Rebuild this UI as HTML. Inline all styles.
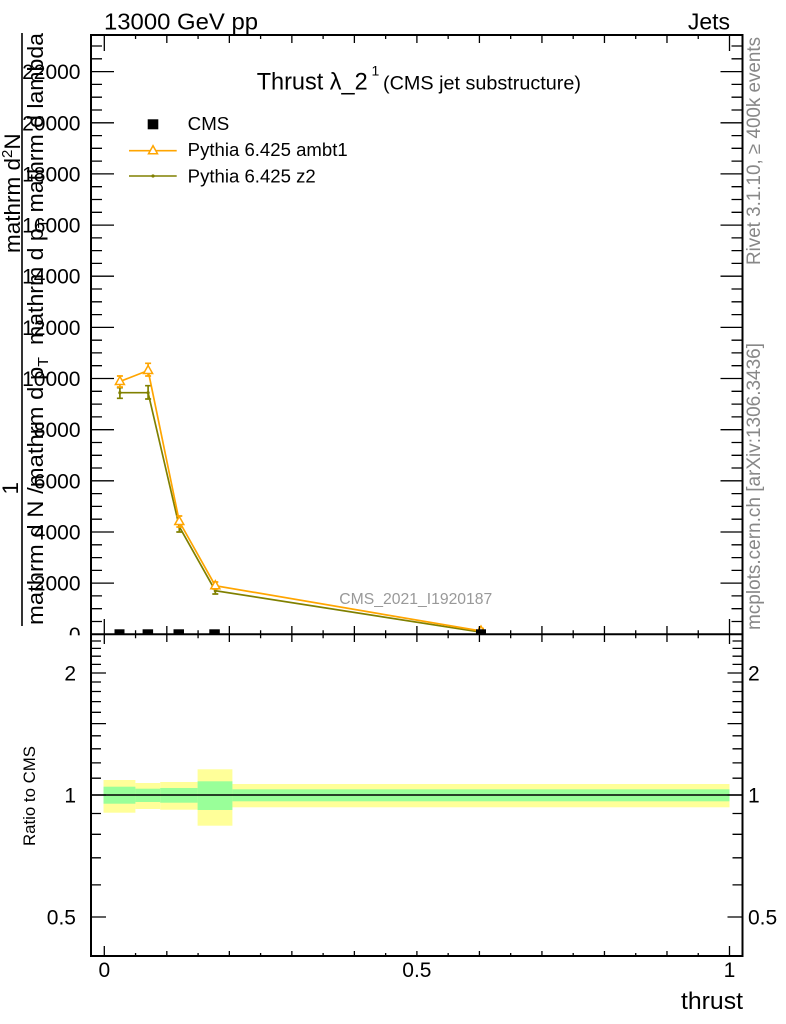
<!DOCTYPE html>
<html><head><meta charset="utf-8"><style>html,body{margin:0;padding:0;background:#fff}svg{display:block}</style></head>
<body>
<svg width="786" height="1024" viewBox="0 0 786 1024" xmlns="http://www.w3.org/2000/svg" font-family="'Liberation Sans', Arial, sans-serif">
<rect x="0" y="0" width="786" height="1024" fill="#fff"/>

<!-- top labels -->
<text x="104" y="29.3" font-size="23" textLength="154" lengthAdjust="spacingAndGlyphs">13000 GeV pp</text>
<text x="730" y="29.3" font-size="23" text-anchor="end">Jets</text>

<!-- main y ticks -->
<path stroke="#000" stroke-width="1.3" fill="none" d="
M91 583.15h23M91 532h23M91 480.8h23M91 429.7h23M91 378.5h23M91 327.4h23M91 276.2h23M91 225.1h23M91 173.9h23M91 122.8h23M91 71.6h23
M91 621.5h11M91 608.7h11M91 595.9h11M91 570.4h11M91 557.6h11M91 544.8h11M91 519.2h11M91 506.4h11M91 493.6h11M91 468h11M91 455.3h11M91 442.5h11M91 416.9h11M91 404.1h11M91 391.3h11M91 365.7h11M91 352.9h11M91 340.2h11M91 314.6h11M91 301.8h11M91 289h11M91 263.4h11M91 250.6h11M91 237.9h11M91 212.3h11M91 199.5h11M91 186.7h11M91 161.1h11M91 148.3h11M91 135.6h11M91 110h11M91 97.2h11M91 84.4h11M91 58.8h11M91 46h11
M742.5 583.15h-22M742.5 532h-22M742.5 480.8h-22M742.5 429.7h-22M742.5 378.5h-22M742.5 327.4h-22M742.5 276.2h-22M742.5 225.1h-22M742.5 173.9h-22M742.5 122.8h-22M742.5 71.6h-22
M742.5 621.5h-11M742.5 608.7h-11M742.5 595.9h-11M742.5 570.4h-11M742.5 557.6h-11M742.5 544.8h-11M742.5 519.2h-11M742.5 506.4h-11M742.5 493.6h-11M742.5 468h-11M742.5 455.3h-11M742.5 442.5h-11M742.5 416.9h-11M742.5 404.1h-11M742.5 391.3h-11M742.5 365.7h-11M742.5 352.9h-11M742.5 340.2h-11M742.5 314.6h-11M742.5 301.8h-11M742.5 289h-11M742.5 263.4h-11M742.5 250.6h-11M742.5 237.9h-11M742.5 212.3h-11M742.5 199.5h-11M742.5 186.7h-11M742.5 161.1h-11M742.5 148.3h-11M742.5 135.6h-11M742.5 110h-11M742.5 97.2h-11M742.5 84.4h-11M742.5 58.8h-11M742.5 46h-11
"/>
<!-- main top x ticks -->
<path stroke="#000" stroke-width="1.3" fill="none" d="
M104.3 35v16M729.5 35v16
M166.82 35v8M229.34 35v8M291.86 35v8M354.38 35v8M416.9 35v8M479.42 35v8M541.94 35v8M604.46 35v8M666.98 35v8
M135.56 35v4M198.08 35v4M260.6 35v4M323.12 35v4M385.64 35v4M448.16 35v4M510.68 35v4M573.2 35v4M635.72 35v4M698.24 35v4
"/>

<!-- main y tick labels -->
<g font-size="21" text-anchor="end">
<text x="80.5" y="79.1">22000</text>
<text x="80.5" y="130.3">20000</text>
<text x="80.5" y="181.4">18000</text>
<text x="80.5" y="232.6">16000</text>
<text x="80.5" y="283.7">14000</text>
<text x="80.5" y="334.9">12000</text>
<text x="80.5" y="386">10000</text>
<text x="80.5" y="437.2">8000</text>
<text x="80.5" y="488.3">6000</text>
<text x="80.5" y="539.5">4000</text>
<text x="80.5" y="590.6">2000</text>
<text x="80.5" y="641.8">0</text>
</g>

<!-- y axis title -->
<line x1="22" y1="33" x2="22" y2="626" stroke="#000" stroke-width="1.6"/>
<text transform="translate(20,253) rotate(-90)" font-size="22.5">mathrm d<tspan font-size="15" dy="-8">2</tspan><tspan font-size="22.5" dy="8">N</tspan></text>
<text transform="translate(18,494.5) rotate(-90)" font-size="22.5">1</text>
<text transform="translate(43,625) rotate(-90) scale(1.06,1)" font-size="22.5">mathrm d N /mathrm d p<tspan font-size="15" dy="5">T</tspan></text>
<text transform="translate(43,345) rotate(-90) scale(1.026,1)" font-size="22.5">mathrm d p<tspan font-size="15" dy="5">T</tspan><tspan dy="-5"> mathrm d lambda</tspan></text>

<!-- title -->
<text x="256.7" y="89.3" font-size="24" textLength="111" lengthAdjust="spacingAndGlyphs">Thrust λ_2</text>
<text x="371.5" y="75.5" font-size="14">1</text>
<text x="383" y="89.3" font-size="19" textLength="198" lengthAdjust="spacingAndGlyphs">(CMS jet substructure)</text>

<!-- legend -->
<rect x="147.7" y="119.3" width="10.6" height="10" fill="#000"/>
<text x="187.7" y="130" font-size="18.5" textLength="41.6" lengthAdjust="spacingAndGlyphs">CMS</text>
<line x1="129" y1="150.7" x2="176.7" y2="150.7" stroke="#FFA500" stroke-width="1.6"/>
<polygon points="153,145.7 148.5,153.7 157.5,153.7" fill="#fff" stroke="#FFA500" stroke-width="1.5"/>
<text x="187.7" y="156" font-size="18.5" textLength="160" lengthAdjust="spacingAndGlyphs">Pythia 6.425 ambt1</text>
<line x1="129" y1="176" x2="176.7" y2="176" stroke="#808000" stroke-width="1.6"/>
<circle cx="153" cy="176" r="1.6" fill="#808000"/>
<text x="187.7" y="182.3" font-size="18.5" textLength="128" lengthAdjust="spacingAndGlyphs">Pythia 6.425 z2</text>

<!-- analysis label -->
<text x="339.3" y="604" font-size="16" fill="#999" textLength="153" lengthAdjust="spacingAndGlyphs">CMS_2021_I1920187</text>

<!-- green (z2) series -->
<g stroke="#808000" stroke-width="1.7" fill="none">
<polyline points="119.9,392.7 148.1,392.7 179.3,526.7 215.3,590.7 481,632.2"/>
<path d="M119.9 387.7V398.3M116.9 387.7h6M116.9 398.3h6
M148.1 385.7V399M145.1 385.7h6M145.1 399h6
M179.3 521.5V532M176.3 521.5h6M176.3 532h6
M215.3 587.5V594M212.3 587.5h6M212.3 594h6
M481 630V634M478 630h6"/>
</g>
<g fill="#808000">
<circle cx="119.9" cy="392.7" r="1.6"/><circle cx="148.1" cy="392.7" r="1.6"/><circle cx="179.3" cy="526.7" r="1.6"/><circle cx="215.3" cy="590.7" r="1.6"/><circle cx="481" cy="632.2" r="1.6"/>
</g>

<!-- orange (ambt1) series -->
<g stroke="#FFA500" stroke-width="1.7" fill="none">
<polyline points="119.9,381.5 148.1,370.5 179.3,521.5 215.3,585.7 481,631"/>
<path d="M119.9 376V387M116.9 376h6M116.9 387h6
M148.1 363.3V376M145.1 363.3h6M145.1 376h6
M179.3 516V527M176.3 516h6M176.3 527h6
M215.3 582V589M212.3 582h6M212.3 589h6
M481 628.5V633.5M478 628.5h6"/>
</g>
<g fill="#fff" stroke="#FFA500" stroke-width="1.5">
<polygon points="119.9,376.5 115.4,384.5 124.4,384.5"/>
<polygon points="148.1,365.5 143.6,373.5 152.6,373.5"/>
<polygon points="179.3,516.5 174.8,524.5 183.8,524.5"/>
<polygon points="215.3,580.7 210.8,588.7 219.8,588.7"/>
<polygon points="481,626 476.5,634 485.5,634"/>
</g>

<!-- CMS data points -->
<g fill="#000">
<rect x="114.5" y="629.3" width="10" height="5"/>
<rect x="142.6" y="629.3" width="10.5" height="5"/>
<rect x="173.5" y="629.3" width="10.5" height="5"/>
<rect x="209.3" y="629.3" width="10.5" height="5"/>
<rect x="476" y="629.3" width="10" height="5"/>
</g>

<!-- right side texts -->
<text transform="translate(760,265) rotate(-90)" font-size="19" fill="#888" textLength="228" lengthAdjust="spacingAndGlyphs">Rivet 3.1.10, ≥ 400k events</text>
<text transform="translate(760,630) rotate(-90)" font-size="19" fill="#888" textLength="287" lengthAdjust="spacingAndGlyphs">mcplots.cern.ch [arXiv:1306.3436]</text>

<!-- ratio panel background -->
<rect x="0" y="635.3" width="786" height="389" fill="#fff"/>

<!-- ratio bands -->
<g fill="#FFFF99">
<rect x="103.5" y="780" width="31.9" height="32.7"/>
<rect x="135.4" y="783" width="24.8" height="26"/>
<rect x="160.2" y="782" width="37.4" height="27.7"/>
<rect x="197.6" y="769.3" width="34.8" height="56.4"/>
<rect x="232.4" y="784" width="497.1" height="23.3"/>
</g>
<g fill="#99FF99">
<rect x="103.5" y="786.7" width="31.9" height="17"/>
<rect x="135.4" y="788.7" width="24.8" height="13.3"/>
<rect x="160.2" y="788" width="37.4" height="14.7"/>
<rect x="197.6" y="781.3" width="34.8" height="28.7"/>
<rect x="232.4" y="789.3" width="497.1" height="12"/>
</g>
<line x1="91" y1="795" x2="742.5" y2="795" stroke="#000" stroke-width="1.5"/>

<!-- ratio y ticks -->
<path stroke="#000" stroke-width="1.3" fill="none" d="
M91 673h15M91 723.6h15M91 795h15M91 917h15
M91 641h10M91 648.4h10M91 656.2h10M91 664.4h10M91 682h10M91 691.5h10M91 701.6h10M91 712.3h10M91 735.8h10M91 748.8h10M91 762.9h10M91 778.2h10M91 813.5h10M91 834.3h10M91 857.8h10M91 884.9h10
M742.5 673h-15M742.5 723.6h-15M742.5 795h-15M742.5 917h-15
M742.5 641h-10M742.5 648.4h-10M742.5 656.2h-10M742.5 664.4h-10M742.5 682h-10M742.5 691.5h-10M742.5 701.6h-10M742.5 712.3h-10M742.5 735.8h-10M742.5 748.8h-10M742.5 762.9h-10M742.5 778.2h-10M742.5 813.5h-10M742.5 834.3h-10M742.5 857.8h-10M742.5 884.9h-10
"/>
<!-- middle x ticks -->
<path stroke="#000" stroke-width="1.3" fill="none" d="
M104.3 619v25M729.5 619v25
M166.82 626v16M229.34 626v16M291.86 626v16M354.38 626v16M416.9 626v16M479.42 626v16M541.94 626v16M604.46 626v16M666.98 626v16
M135.56 630.3v8M198.08 630.3v8M260.6 630.3v8M323.12 630.3v8M385.64 630.3v8M448.16 630.3v8M510.68 630.3v8M573.2 630.3v8M635.72 630.3v8M698.24 630.3v8
"/>
<!-- bottom x ticks -->
<path stroke="#000" stroke-width="1.3" fill="none" d="
M104.3 956v-10M729.5 956v-10
M166.82 956v-5M229.34 956v-5M291.86 956v-5M354.38 956v-5M416.9 956v-5M479.42 956v-5M541.94 956v-5M604.46 956v-5M666.98 956v-5
M135.56 956v-3M198.08 956v-3M260.6 956v-3M323.12 956v-3M385.64 956v-3M448.16 956v-3M510.68 956v-3M573.2 956v-3M635.72 956v-3M698.24 956v-3
"/>

<!-- frame -->
<rect x="91" y="35" width="651.5" height="921" fill="none" stroke="#000" stroke-width="2"/>
<line x1="91" y1="634.3" x2="742.5" y2="634.3" stroke="#000" stroke-width="2"/>

<!-- ratio labels -->
<g font-size="21">
<text x="76" y="680.5" text-anchor="end">2</text>
<text x="76" y="802.5" text-anchor="end">1</text>
<text x="76" y="924.5" text-anchor="end">0.5</text>
<text x="748" y="680.5">2</text>
<text x="748" y="802.5">1</text>
<text x="748" y="924.5">0.5</text>
<text x="104.3" y="977" text-anchor="middle">0</text>
<text x="416.9" y="977" text-anchor="middle">0.5</text>
<text x="729.5" y="977" text-anchor="middle">1</text>
</g>
<text transform="translate(35,846) rotate(-90)" font-size="17" textLength="100" lengthAdjust="spacingAndGlyphs">Ratio to CMS</text>
<text x="743" y="1009" font-size="24" text-anchor="end" textLength="62" lengthAdjust="spacingAndGlyphs">thrust</text>
</svg>
</body></html>
